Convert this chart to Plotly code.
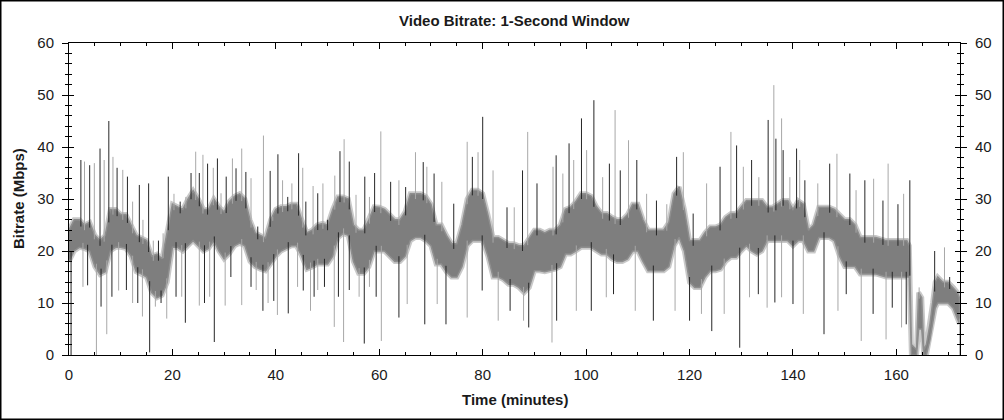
import numpy as np
import plotly.graph_objects as go

# ---------------- data ----------------
# dense core band of the 1-second bitrate trace (Mbps), per minute
band_t = list(range(0, 163)) + [162.5, 162.9, 163.9, 164.3, 164.9, 165.3, 165.8,
                                166.5, 167, 167.5, 168, 169, 170, 171, 171.8, 172.2]
band_lo = [18, 20, 20.7, 20.5, 20, 17, 15.5, 16, 20, 20.7,
           20.7, 20.5, 19, 16, 15.6, 15, 12, 11, 11.5, 14,
           20.7, 20.7, 20, 21, 22, 21, 20, 20.5, 22, 20,
           18.5, 19.5, 21, 21.5, 21, 18, 17, 16.5, 16.2, 17.5,
           19, 20, 20.5, 21, 21, 19, 16.5, 16.9, 17.5, 17.5,
           17.5, 19, 22.5, 23.4, 23, 18, 15.7, 15.7, 17, 20,
           20, 20, 19, 18, 18, 19, 22, 22.6, 22.6, 22,
           21, 17.5, 17.5, 16, 15, 15, 17, 21, 22, 22,
           22, 19, 15, 15, 14.5, 13.6, 13.6, 13, 12, 13,
           16.2, 16.2, 16, 16.2, 16.5, 17, 19.4, 19.4, 20, 20.7,
           20.7, 20.7, 20, 19.4, 19.4, 18.5, 18, 18, 18.5, 20,
           20, 18, 16.2, 16.2, 16.2, 16.2, 17, 21, 22.6, 20,
           14, 13, 13, 15, 16.2, 16.2, 16.5, 18, 18.8, 18.8,
           20, 21, 20, 19.4, 20, 22, 22, 22, 22, 22,
           21, 22, 22, 20, 20, 22.6, 22.6, 22.6, 22, 19,
           17, 17, 17, 15.6, 15.6, 15.6, 15.6, 15.3, 15, 15,
           15, 15, 15,
           15, 0, 0, 5, 5, 0, 0, 3, 6, 9, 10, 10, 10, 9, 7, 6]
band_hi = [24, 26, 26, 25, 25.5, 23, 22, 23, 28, 28,
           27, 27, 25, 23, 22.5, 22, 19, 19.4, 18.5, 24,
           29, 28.5, 28, 30, 31.6, 30, 28, 28, 30, 28.5,
           27.5, 29.5, 30.5, 31, 30, 26, 23.5, 23, 22.5, 26,
           28, 28.5, 28.5, 29, 29, 26, 23.5, 24, 25, 25.3,
           25, 28, 30.4, 30.4, 30, 25, 24, 24, 26, 28.5,
           28.4, 28, 27, 26, 26, 27.5, 31, 31, 31, 30.5,
           29, 25, 25, 23, 21.4, 21.4, 25, 30, 31.7, 31.7,
           31, 27, 22.6, 22.6, 22, 21.4, 21.4, 21, 21, 22.6,
           24, 24, 23.5, 24, 24, 25, 28, 28.4, 29.5, 31,
           31, 30.5, 28.5, 27.2, 27.2, 26.5, 26, 26, 27, 29,
           29, 26, 24, 24, 24, 24, 25.5, 31, 32.3, 28,
           22, 22, 22, 23.5, 24.6, 24.6, 25, 26.5, 27.2, 27.2,
           28.5, 29.7, 29.7, 29.7, 29.7, 28.4, 28.4, 29, 29.7, 29.7,
           28, 29.7, 29, 24, 25, 28.4, 28.4, 28.4, 28, 27,
           26, 26, 25, 22.6, 22.6, 22.6, 22.6, 22.3, 22, 22,
           22, 22, 22,
           21, 2, 1, 12, 11, 1, 2, 6, 10, 14, 15, 14, 14, 13, 12, 11]

# upward spikes: time (min) and peak bitrate (Mbps)
spike_up_t = [2.3, 3.0, 4.0, 4.9, 6.0, 6.8, 7.7, 8.5, 9.3, 10.4, 11.3, 12.3, 13.6, 14.3,
              15.4, 16.3, 17.3, 18.2, 19.2, 20.3, 21.5, 22.6, 23.6, 24.5, 25.2, 25.9,
              26.8, 27.9, 28.7, 29.4, 30.4, 31.6, 32.3, 33.4, 34.2, 35.2, 36.5, 37.6,
              38.9, 39.4, 40.4, 41.3, 42.3, 43.1, 44.4, 45.2, 45.8, 47.2, 48.1, 49.1,
              50, 51.4, 52.4, 53.2, 54.2, 55.5, 57.2, 58.1, 59.1, 60.3,
              62.2, 63.8, 65.1, 67, 68.5, 69.2, 70.6, 72.1, 74.4, 77, 78, 79.1, 80, 82,
              84.7, 86.1, 87.7, 88.7,
              90.5, 93.6, 94.2, 95.5, 96.7, 97.6, 99.1, 100.1, 101.5, 103.2, 104.5, 105.6,
              106.6, 108.2, 109.8, 111.7, 113.6, 115.6, 117.5, 118.8, 120.7, 123.3, 125.9,
              128, 129.1, 130.4, 132, 133.4, 135.2, 136.3, 136.7, 137.8, 138.1, 139.4,
              140.7, 141.3, 142.3, 144.8, 147.1, 148.5, 151, 152.2, 153.9, 155.6, 157.4,
              158.4, 160.3, 161.4, 162.6, 164.4, 167.4, 169.3, 170.3]
spike_up_v = [37.5, 37.2, 36.5, 36.9, 39.7, 37.5, 45, 38.1, 36, 35.6, 34.3, 29.5, 32.7, 26,
              33, 22, 22, 23.4, 34.3, 31, 29.5, 30.4, 35, 39.1, 35, 38.5,
              36.8, 36, 37.8, 31.1, 34.3, 37.8, 35.9, 39.7, 35.2, 34, 24.7, 42.2,
              35.4, 26.6, 38.6, 33.6, 30.4, 33, 38.8, 36, 29.5, 32.5, 31.1, 33,
              26, 34.5, 39.2, 41.5, 37.2, 30.8, 34.3, 30.4, 35, 43,
              33.3, 33.6, 32.3, 39, 37.1, 36.2, 34.9, 33.3, 29.1, 41, 38.1, 39, 45.8, 35.5,
              28.4, 28.4, 35.5, 42.9,
              33, 36.2, 38.4, 34.9, 40.7, 37.5, 45.5, 39.4, 49, 34.2, 36.8, 47.1,
              35.5, 41.3, 37.5, 31, 29.7, 29, 38.1, 39, 27.2, 33, 36.2,
              42.9, 40.3, 36.2, 37.5, 34.2, 45.2, 51.9, 41.6, 45.5, 39.4, 34.2,
              39.7, 37.5, 33.6, 33, 36.8, 38.7, 34.9, 31.7, 33.6, 33.9, 29.7,
              36.8, 29, 31, 33.6, 13, 20, 20.7, 15]

# downward spikes: time (min) and lowest bitrate (Mbps)
spike_dn_t = [0.4, 2.7, 3.6, 5.3, 6.2, 7.3, 8.3, 9.6, 11.1, 12.3, 13.3, 14.2, 15.6, 16.7,
              17.8, 18.9, 20.7, 21.8, 22.5, 25.2, 26.2, 27.2, 28.1, 30.2, 31.3, 33.4,
              35.2, 36.2, 37.5, 38.5, 39.6, 40.3, 42.4, 44.2, 45.3, 46.7, 47.4, 48.1,
              49.4, 51.3, 52.1, 53.1, 54.2, 56.1, 57.1, 58.1, 59.4, 60.4,
              63.8, 65.4, 68.8, 71.2, 72.9,
              77, 79.9, 83, 85.3, 87.9, 88.9, 93.4, 94.3, 98.1, 101, 103.9, 105.3, 109.5,
              113, 117.2, 120, 122.3, 124.3, 126.7, 129.7, 131.6, 133.3, 135, 136.5,
              137.8, 140, 142, 146, 148.7, 150.3, 153.2, 155.5, 158, 159.2, 161, 161.9,
              172.25]
spike_dn_v = [0, 13.1, 13.4, 0, 9.3, 4, 11.2, 12.4, 12.5, 10, 10, 7.4, 0.5, 9.3,
              10, 7, 11.2, 11.2, 6.2, 9.5, 10, 11.2, 2.5, 9.5, 15, 9.6,
              13.1, 12.5, 8.5, 10, 10.4, 7.7, 8, 13.1, 12.4, 8.5, 11.2, 12.5,
              13.1, 5.4, 11.2, 2.5, 12.5, 11.2, 2.2, 13.1, 11.2, 2.7,
              7.2, 9.8, 5.9, 9.8, 5.9,
              7.2, 12.4, 6.6, 8.5, 6.6, 5.3, 2.4, 6.6, 8.5, 8.5, 11.1, 11.7, 8.5,
              6.6, 8.5, 6.6, 7.9, 4.6, 7.9, 1.4, 11.1, 11.7, 9.1, 10.1,
              11.1, 9.8, 7.9, 4, 8.5, 11.7, 2.7, 7.9, 3, 9.1, 5.3, 5.9,
              0]

x_ticks = [0, 20, 40, 60, 80, 100, 120, 140, 160]
y_ticks = [0, 10, 20, 30, 40, 50, 60]

# ---------------- figure ----------------
FONT = "Liberation Sans, Arial, sans-serif"
fig = go.Figure()

poly_x = band_t + band_t[::-1]
poly_y = band_hi + band_lo[::-1]

# soft fringe around the dense core (style only)
fig.add_trace(go.Scatter(x=poly_x, y=poly_y, mode="lines",
                         line=dict(color="#c9c9c9", width=5),
                         hoverinfo="skip", showlegend=False))
# core band
fig.add_trace(go.Scatter(x=poly_x, y=poly_y, fill="toself", fillcolor="#7e7e7e",
                         mode="lines", line=dict(color="#8e8e8e", width=1.5),
                         hoverinfo="skip", showlegend=False))


def spike_segments(ts, vs, base_arr, offset, parity):
    xs, ys = [], []
    for i, (t, v) in enumerate(zip(ts, vs)):
        if i % 2 != parity:
            continue
        b = float(np.interp(t, band_t, base_arr)) + offset
        xs += [t, t, None]
        ys += [b, v, None]
    return xs, ys


for parity, col in [(1, "#a8a8a8"), (0, "#262626")]:
    ux, uy = spike_segments(spike_up_t, spike_up_v, band_hi, -1.0, parity)
    dx, dy = spike_segments(spike_dn_t, spike_dn_v, band_lo, 1.0, parity)
    fig.add_trace(go.Scatter(x=ux + dx, y=uy + dy, mode="lines",
                             line=dict(color=col, width=1),
                             hoverinfo="skip", showlegend=False))

# empty traces so the secondary (tick) axes are drawn
for ya in ["y2", "y3", "y4"]:
    fig.add_trace(go.Scatter(x=[None], y=[None], yaxis=ya, showlegend=False,
                             hoverinfo="skip"))

tickfont = dict(family=FONT, size=15, color="#1a1a1a")
common_y = dict(range=[0, 60], tickvals=y_ticks, showgrid=False, zeroline=False,
                showline=True, linecolor="black", linewidth=1, fixedrange=True)

fig.update_layout(
    width=1004, height=420, autosize=False,
    margin=dict(l=69, r=44, t=43, b=65, pad=0),
    paper_bgcolor="white", plot_bgcolor="white",
    xaxis=dict(range=[0, 172.3], tickvals=x_ticks, showgrid=False, zeroline=False,
               showline=True, linecolor="black", linewidth=1, mirror="ticks",
               ticks="inside", ticklen=6, tickcolor="black", tickfont=tickfont,
               ticklabelstandoff=6, fixedrange=True,
               minor=dict(dtick=5, tick0=0, ticks="inside", ticklen=3, tickcolor="black")),
    yaxis=dict(**common_y, side="left", ticks="outside", ticklen=6, tickcolor="black",
               tickfont=tickfont, ticklabelstandoff=5,
               minor=dict(dtick=2, ticks="outside", ticklen=3, tickcolor="black")),
    yaxis2=dict(**common_y, overlaying="y", side="right", ticks="outside", ticklen=6,
                tickcolor="black", tickfont=tickfont, ticklabelstandoff=5,
                minor=dict(dtick=2, ticks="outside", ticklen=3, tickcolor="black")),
    yaxis3=dict(**common_y, overlaying="y", side="left", ticks="inside", ticklen=5,
                tickcolor="black", showticklabels=False,
                minor=dict(dtick=2, ticks="inside", ticklen=3, tickcolor="black")),
    yaxis4=dict(**common_y, overlaying="y", side="right", ticks="inside", ticklen=5,
                tickcolor="black", showticklabels=False,
                minor=dict(dtick=2, ticks="inside", ticklen=3, tickcolor="black")),
    annotations=[
        dict(text="<b>Video Bitrate: 1-Second Window</b>", xref="paper", yref="paper",
             x=0.5, y=(355 - 20) / 312, xanchor="center", yanchor="middle",
             showarrow=False, font=dict(family=FONT, size=15, color="#1a1a1a")),
        dict(text="<b>Time (minutes)</b>", xref="paper", yref="paper",
             x=0.5, y=(355 - 399) / 312, xanchor="center", yanchor="middle",
             showarrow=False, font=dict(family=FONT, size=15, color="#1a1a1a")),
        dict(text="<b>Bitrate (Mbps)</b>", xref="paper", yref="paper",
             x=(18 - 69) / 891, y=0.5, xanchor="center", yanchor="middle",
             textangle=-90, showarrow=False,
             font=dict(family=FONT, size=15, color="#1a1a1a")),
    ],
    shapes=[dict(type="rect", xref="paper", yref="paper",
                 x0=(0.75 - 69) / 891, x1=(1003.25 - 69) / 891,
                 y0=(355 - 419.25) / 312, y1=(355 - 0.75) / 312,
                 line=dict(color="black", width=1.5), layer="above")],
)

fig.write_html("out.html",
               config={"displayModeBar": False, "staticPlot": True},
               post_script="document.body.style.margin='0';"
                           "document.body.style.overflow='hidden';")
